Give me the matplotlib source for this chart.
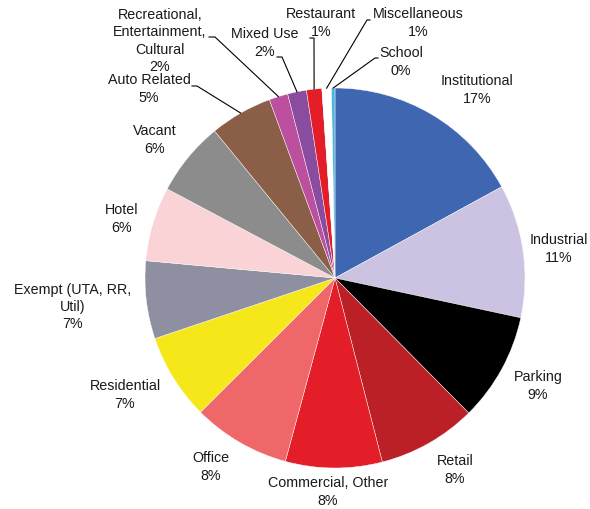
import numpy as np
import matplotlib.pyplot as plt

plt.rcParams['font.family'] = ['Liberation Sans', 'DejaVu Sans']

# Land use shares (percent)
categories = ["Institutional", "Industrial", "Parking", "Retail", "Commercial, Other",
              "Office", "Residential", "Exempt (UTA, RR,\nUtil)", "Hotel", "Vacant",
              "Auto Related", "Recreational,\nEntertainment,\nCultural", "Mixed Use",
              "Restaurant", "Miscellaneous", "School"]
shares = [17.0, 11.3, 9.2, 8.4, 8.2, 8.3, 7.3, 6.6, 6.3, 6.3, 5.3, 1.6, 1.6, 1.3, 0.8, 0.3]

colors = ["#3F66B0", "#CBC3E1", "#000000", "#BA2026", "#E31E28", "#F0676A",
          "#F5E71A", "#8E8FA0", "#F9D3D5", "#8C8C8C", "#8B5E48", "#BC509E",
          "#8A4C9E", "#E31E28", "#FFFFFF", "#4FB5E0"]

W, H = 590, 509
CX, CY, R = 335, 278, 190   # pie centre / radius in image pixels

# label centres in image pixels
label_pos = [(477, 90), (559, 249), (538, 386), (455, 470), (328, 492),
             (211, 467), (125, 395), (73, 307), (122, 219), (155, 140),
             (149, 89), (160, 41), (265, 43), (321, 23), (418, 23), (401, 62)]

# leader lines: index -> points from label side to elbow (image pixels)
leaders = {
    10: [(192, 86), (197, 86)],
    11: [(209, 37), (215, 37)],
    12: [(277, 57), (282, 57)],
    13: [(310, 38), (314, 38)],
    14: [(370, 20), (367, 20)],
    15: [(378, 58), (375, 58)],
}

fig = plt.figure(figsize=(W / 100, H / 100), dpi=100)
ax = fig.add_axes([0, 0, 1, 1])

wedges, _ = ax.pie(shares, colors=colors, startangle=90, counterclock=False,
                   center=(CX, H - CY), radius=R, frame=False,
                   wedgeprops=dict(edgecolor='white', linewidth=0.3))
ax.set_xlim(0, W)
ax.set_ylim(0, H)
ax.set_aspect('equal')
ax.axis('off')

total = sum(shares)
for i, (name, val) in enumerate(zip(categories, shares)):
    pct = int(round(val / total * 100))
    lx, ly = label_pos[i]
    ax.text(lx, H - ly, f"{name}\n{pct}%", ha='center', va='center',
            fontsize=10.3, linespacing=1.28, color='#1a1a1a')
    if i in leaders:
        w = wedges[i]
        mid = np.deg2rad((w.theta1 + w.theta2) / 2)
        ex = CX + R * np.cos(mid)
        ey = (H - CY) + R * np.sin(mid)
        pts = leaders[i]
        xs = [p[0] for p in pts] + [ex]
        ys = [H - p[1] for p in pts] + [ey]
        ax.plot(xs, ys, color='black', lw=0.8)

plt.savefig("out.png", dpi=100)
